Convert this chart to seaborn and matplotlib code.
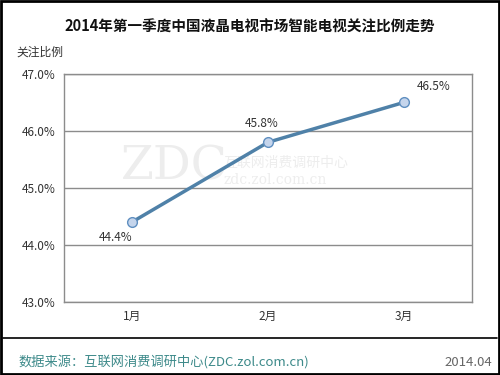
import numpy as np
import pandas as pd
import matplotlib
matplotlib.use("Agg")
import matplotlib.pyplot as plt
import seaborn as sns
from matplotlib.lines import Line2D
from matplotlib.patches import Rectangle

# data
months = ["1月", "2月", "3月"]
share = [44.4, 45.8, 46.5]
yticks = [43.0, 44.0, 45.0, 46.0, 47.0]

sns.set_style("white")
plt.rcParams['font.family'] = ['Noto Sans CJK SC', 'DejaVu Sans']

df = pd.DataFrame({"month": months, "share": share})

fig = plt.figure(figsize=(5, 3.75), dpi=100)
ax = fig.add_axes([0.128, 0.195, 0.816, 0.608])

x = np.arange(len(months))
df["x"] = x
sns.lineplot(data=df, x="x", y="share", ax=ax, color="#4f81a8", linewidth=2.5,
             marker="o", markersize=7, markerfacecolor="#c5d5ec",
             markeredgecolor="#5f8fc0", markeredgewidth=1.0, zorder=3)

ax.set_xlim(-0.5, 2.5)
ax.set_ylim(43, 47)
ax.set_yticks(yticks)
ax.set_yticklabels([f"{v:.1f}%" for v in yticks], fontsize=8.5, color="#333333")
ax.set_xticks(x)
ax.set_xticklabels(months, fontsize=8.5, color="#333333")
ax.tick_params(axis="both", length=0, pad=6)
ax.set_xlabel("")
ax.set_ylabel("")
ax.grid(axis="y", color="#8c8c8c", linewidth=1.0)
ax.set_axisbelow(True)
for s in ax.spines.values():
    s.set_color("#8c8c8c")
    s.set_linewidth(1.0)

# value labels
offsets = [(-0.12, -0.27), (-0.05, 0.33), (0.22, 0.27)]
for xi, v, (dx, dy) in zip(x, share, offsets):
    ax.text(xi + dx, v + dy, f"{v:.1f}%", ha="center", va="center",
            fontsize=8.5, color="#333333")

# faint watermark
ax.text(0.27, 0.59, "ZDC", transform=ax.transAxes, fontsize=34, color="#ededed",
        ha="center", va="center", zorder=0, family="DejaVu Serif")
ax.text(0.39, 0.61, "互联网消费调研中心", transform=ax.transAxes, fontsize=10,
        color="#ededed", ha="left", va="center", zorder=0)
ax.text(0.39, 0.535, "zdc.zol.com.cn", transform=ax.transAxes, fontsize=10,
        color="#ededed", ha="left", va="center", zorder=0, family="DejaVu Serif")

fig.text(0.5, 0.928, "2014年第一季度中国液晶电视市场智能电视关注比例走势",
         ha="center", va="center", fontsize=10.5, fontweight="bold", color="#111111")
fig.text(0.08, 0.862, "关注比例", ha="center", va="center", fontsize=8.5, color="#333333")

# footer
fig.add_artist(Line2D([0.006, 0.994], [1 - 338 / 375] * 2, color="black", linewidth=1.2))
fig.text(0.036, 1 - 362 / 375, "数据来源：互联网消费调研中心(ZDC.zol.com.cn)",
         ha="left", va="center", fontsize=9.5, color="#3d8a8a")
fig.text(0.985, 1 - 362 / 375, "2014.04", ha="right", va="center",
         fontsize=9.5, color="#666666")

# outer frame
fig.add_artist(Rectangle((0.002, 0.003), 0.996, 0.994, transform=fig.transFigure,
                         fill=False, edgecolor="black", linewidth=2))

fig.savefig("out.png", dpi=100)
